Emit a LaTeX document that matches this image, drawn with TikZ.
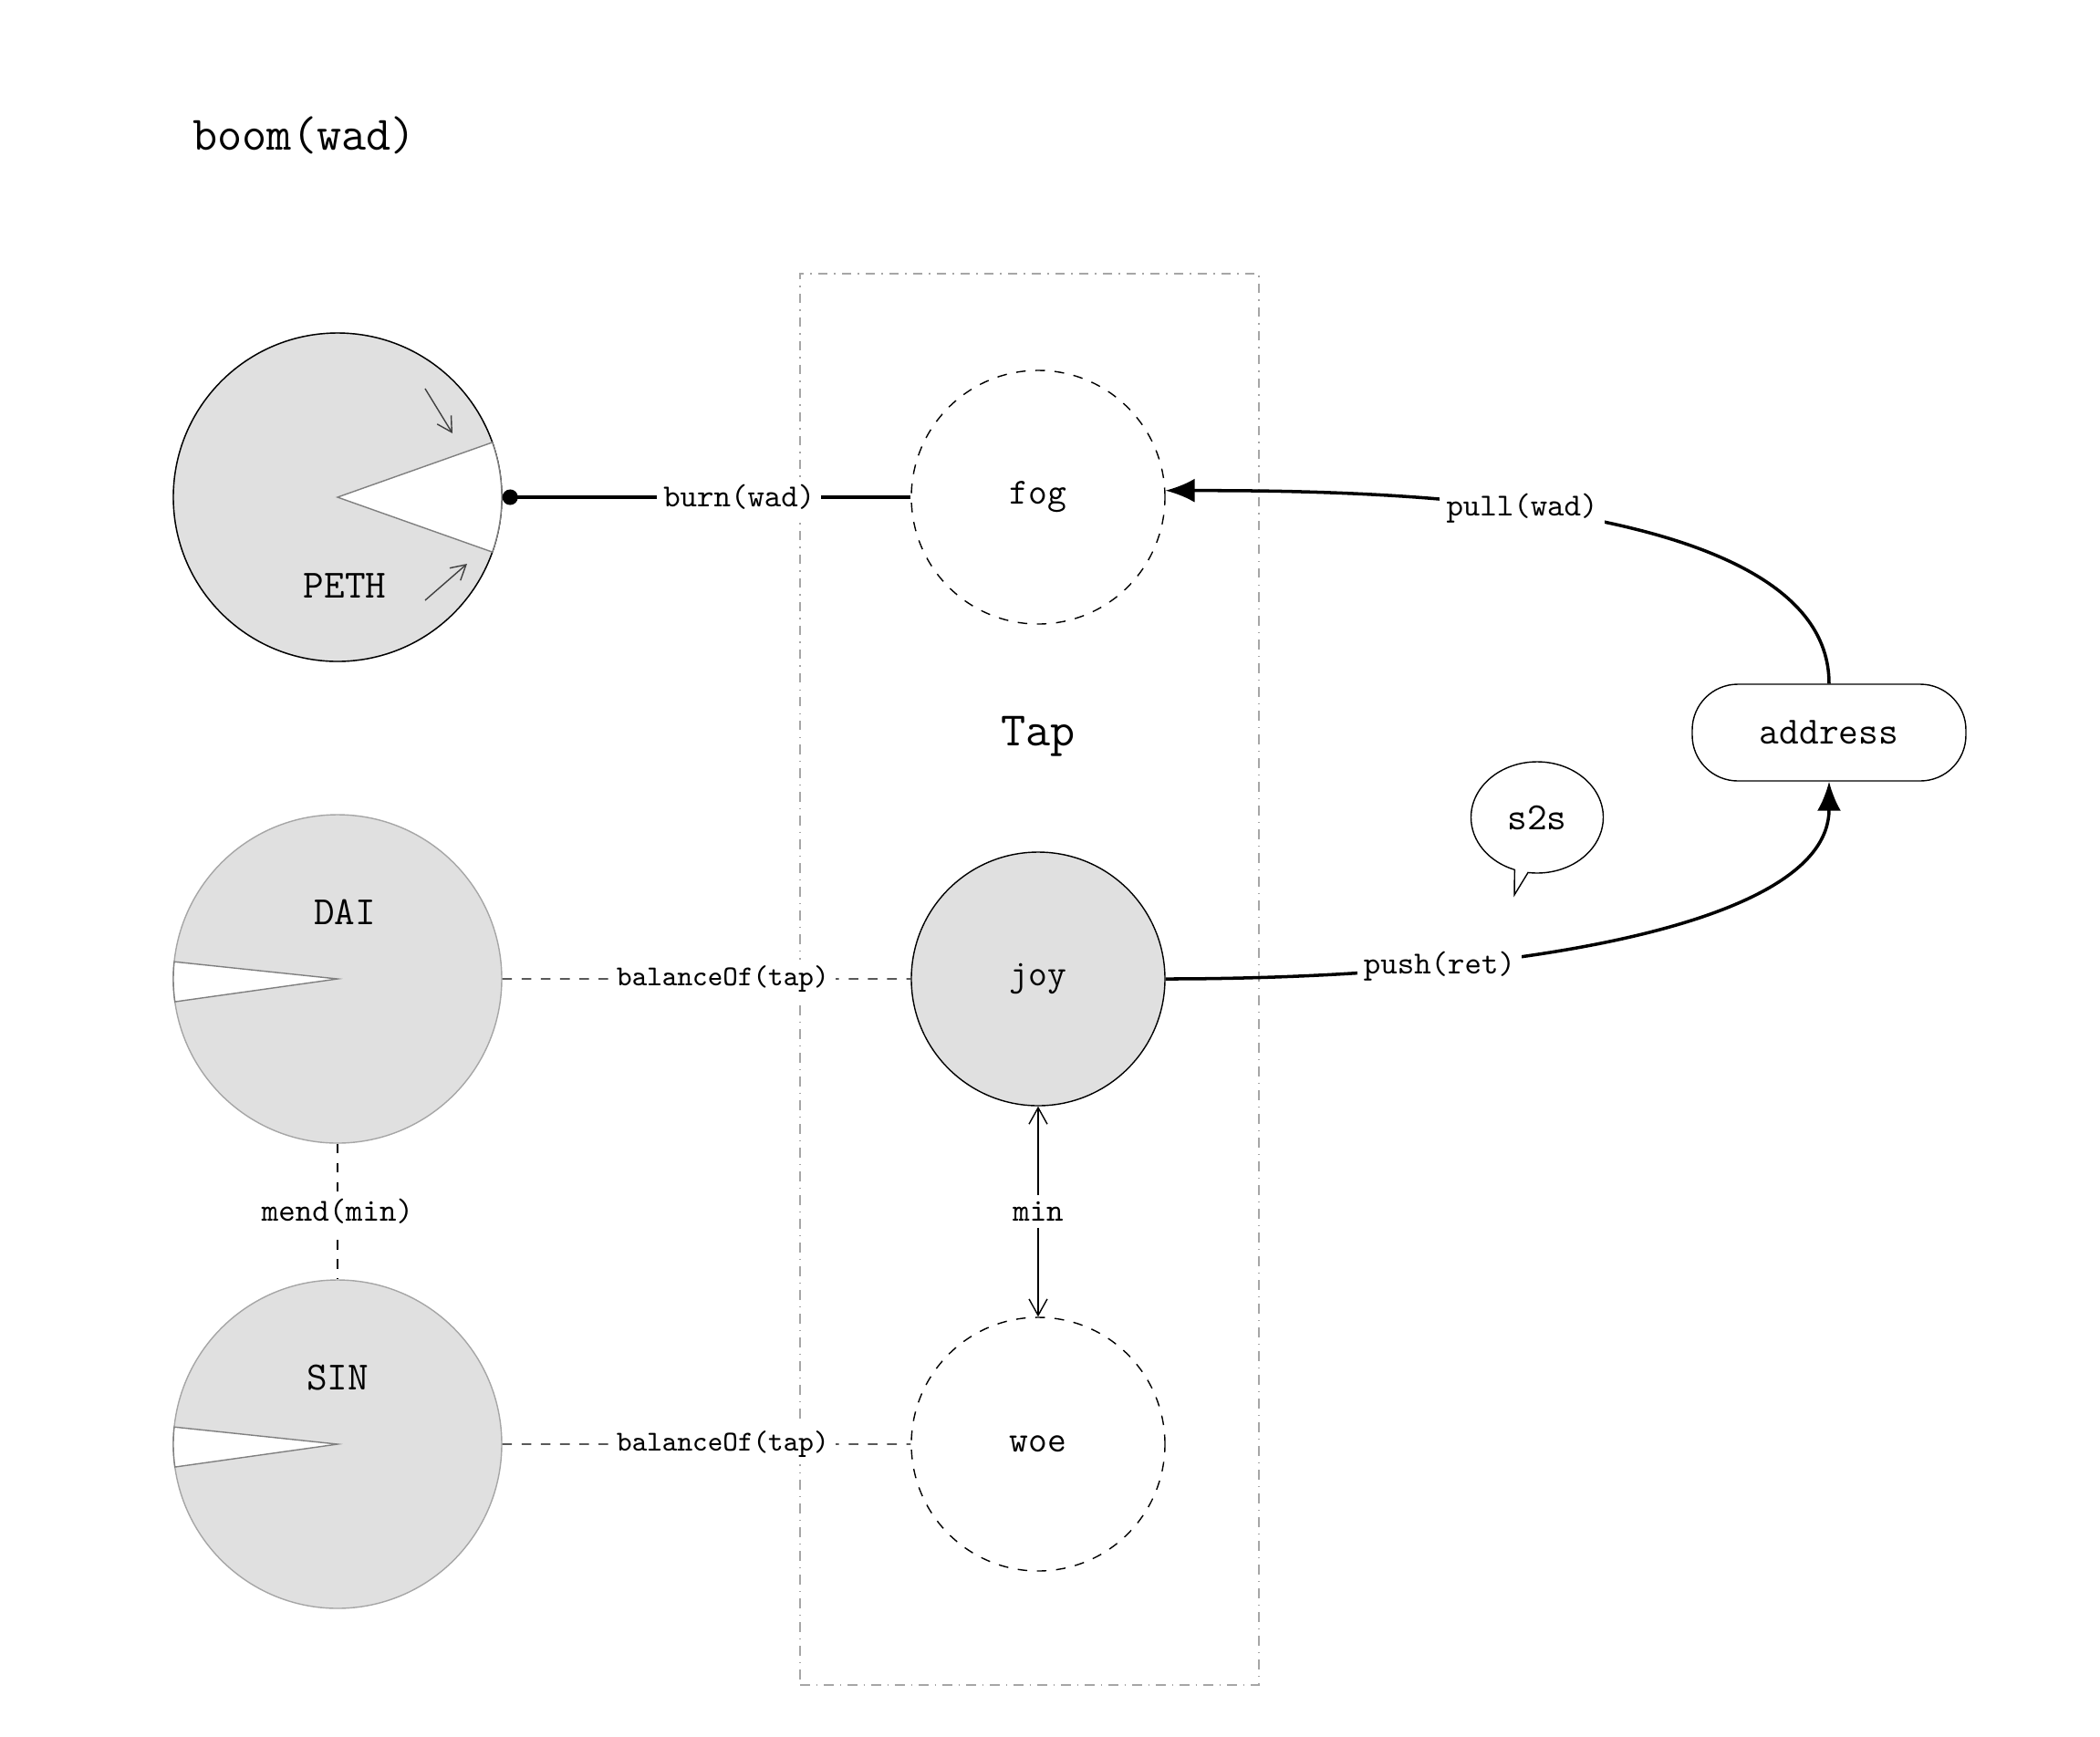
\documentclass[tikz,border=0pt]{standalone}
\usepackage{fontspec}
\usepackage{tikz}
\usetikzlibrary{shapes,shapes.callouts,arrows,arrows.meta,positioning}
\tikzstyle{tokpool} = [circle, draw=black!35, fill=black!12, minimum size=3.6cm, inner sep=0pt]
\tikzstyle{poolname} = [font=\ttfamily\fontsize{12.5}{14}\selectfont]
\tikzstyle{tapslot} = [circle, draw, dashed, minimum size=2.78cm, inner sep=0pt, font=\ttfamily\fontsize{11.5}{13}\selectfont]
\tikzstyle{fullslot} = [tapslot, solid, fill=black!12]
\tikzstyle{tapbox} = [draw=black!35, dash dot, minimum width=5.03cm, minimum height=15.47cm]
\tikzstyle{holder} = [draw, rounded corners=0.5cm, minimum width=3.0cm, minimum height=1.06cm, font=\ttfamily\fontsize{12}{14}\selectfont]
\tikzstyle{call} = [fill=white, inner sep=2pt, font=\ttfamily\fontsize{10}{12}\selectfont]
\tikzstyle{smallcall} = [call, font=\ttfamily\fontsize{9}{11}\selectfont]
\tikzstyle{wedge} = [draw=black!50, fill=white]
\tikzstyle{flow} = [draw, thin, black!75, -{Straight Barb[length=1.6mm,width=1.8mm]}]
\tikzstyle{arrow} = [draw, line width=1pt, -{Latex[length=3.2mm,width=2.6mm]}]
\tikzstyle{line} = [draw, line width=1pt]
\tikzstyle{weak} = [draw, dashed, thin]
\newcommand{\tokpool}[2]{node (k#1) [tokpool] {#2}}
\newcommand{\tapslot}[2]{node (s#1) [tapslot] {#2}}

\begin{document}
\begin{tikzpicture}
\useasboundingbox (0,0) rectangle (23.02,-19.04);
\path (1.99,-1.48) node (title) [anchor=west, font=\ttfamily\fontsize{15}{18}\selectfont] {boom(wad)};

% Tap
\path (11.285,-10.735) node (tap) [tapbox] {};
\path (11.38,-8.07) node (tapname) [font=\ttfamily\fontsize{15}{18}\selectfont] {Tap};
\path (11.38,-5.45) \tapslot{1}{fog};
\path (s1)+(0.0,-5.28) node (s2) [fullslot] {joy};
\path (s2)+(0.0,-5.10) \tapslot{3}{woe};

% tokens
\path (3.70,-5.45) \tokpool{1}{};
\path (k1) node [draw=black, circle, minimum size=3.6cm] {};
\filldraw [wedge] (k1.center) -- ++(19.5:1.80) arc[start angle=19.5, end angle=-19.5, radius=1.80] -- cycle;
\draw [flow] (k1.center) ++(0.96,1.19) -- ++(0.30,-0.49);
\draw [flow] (k1.center) ++(0.96,-1.13) -- ++(0.46,0.40);
\path (k1)+(0.08,-0.97) node (n1) [poolname] {PETH};

\path (3.70,-10.73) \tokpool{2}{};
\filldraw [wedge] (k2.center) -- ++(174:1.80) arc[start angle=174, end angle=188, radius=1.80] -- cycle;
\path (k2)+(0.08,0.73) node (n2) [poolname] {DAI};

\path (k2)+(0.0,-5.10) \tokpool{3}{};
\filldraw [wedge] (k3.center) -- ++(174:1.80) arc[start angle=174, end angle=188, radius=1.80] -- cycle;
\path (k3)+(0.0,0.73) node (n3) [poolname] {SIN};

% holder
\path (20.05,-8.03) node (addr) [holder] {address};
\coordinate (tip) at (16.60,-9.81);
\path (16.85,-8.96) node (bubble) [ellipse callout, draw, fill=white, minimum width=1.45cm, minimum height=1.22cm, callout absolute pointer=(tip), callout pointer arc=12, font=\ttfamily\fontsize{12}{14}\selectfont] {s2s};

% calls
\path [line, {Circle[length=1.7mm]}-] (k1.east) -- (s1.west) node[call, pos=0.58] {burn(wad)};
\path [arrow] (addr.north) .. controls +(0,2.1) and +(2.0,0) .. (s1.3) node[call, pos=0.55] {pull(wad)};
\path [arrow] (s2.east) .. controls +(3.7,0) and +(0,-1.6) .. (addr.south) node[call, pos=0.28] {push(ret)};
\path [weak] (k2.east) -- (s2.west) node[smallcall, pos=0.54] {balanceOf(tap)};
\path [weak] (k3.east) -- (s3.west) node[smallcall, pos=0.54] {balanceOf(tap)};
\path [weak] (k2.south) -- (k3.north) node[call, pos=0.5] {mend(min)};
\path [draw, thin, {Straight Barb[length=1.8mm,width=2mm]}-{Straight Barb[length=1.8mm,width=2mm]}] (s2.south) -- (s3.north) node[call, pos=0.5] {min};
\end{tikzpicture}
\end{document}
